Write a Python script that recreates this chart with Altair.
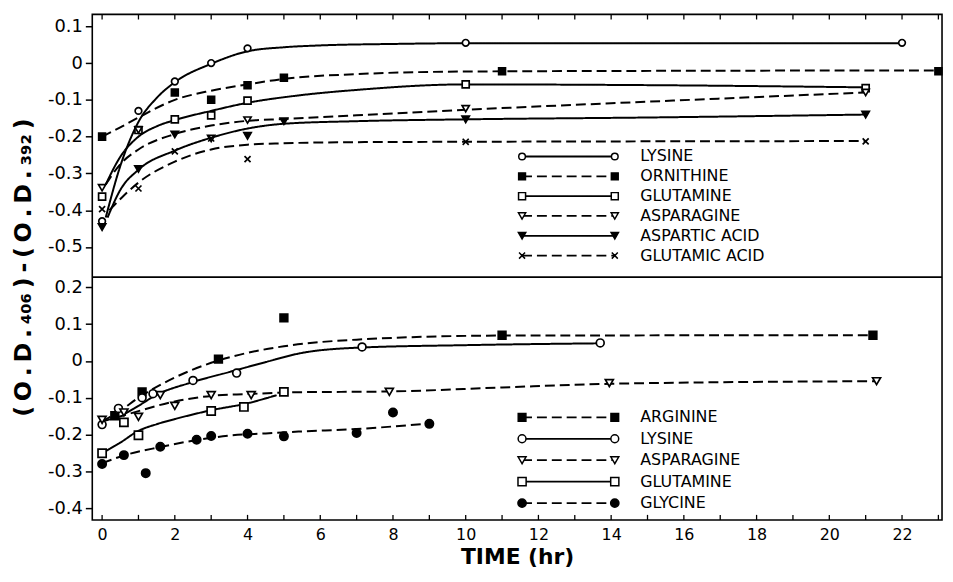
import altair as alt
import pandas as pd

# ------------------------------------------------------------------ data
TOP_NAMES = ["LYSINE", "ORNITHINE", "GLUTAMINE", "ASPARAGINE", "ASPARTIC ACID", "GLUTAMIC ACID"]
BOTTOM_NAMES = ["ARGININE", "LYSINE", "ASPARAGINE", "GLUTAMINE", "GLYCINE"]

# measured points (time in hr, (O.D.406)-(O.D.392)) — upper panel
TOP_LYSINE_PTS = [(0, -0.43), (1, -0.13), (2, -0.05), (3, 0.0), (4, 0.04), (10, 0.055), (22, 0.055)]
TOP_ORNITHINE_PTS = [(0, -0.20), (2, -0.08), (3, -0.10), (4, -0.06), (5, -0.04), (11, -0.022), (23, -0.022)]
TOP_GLUTAMINE_PTS = [(0, -0.363), (1, -0.182), (2, -0.153), (3, -0.142), (4, -0.102), (10, -0.058), (21, -0.068)]
TOP_ASPARAGINE_PTS = [(0, -0.339), (1, -0.182), (3, -0.205), (4, -0.155), (10, -0.124), (21, -0.08)]
TOP_ASPARTIC_PTS = [(0, -0.446), (1, -0.288), (2, -0.194), (4, -0.198), (5, -0.158), (10, -0.153), (21, -0.14)]
TOP_GLUTAMIC_PTS = [(0, -0.397), (1, -0.341), (2, -0.24), (3, -0.205), (4, -0.261), (10, -0.214), (21, -0.213)]

# drawn curves — upper panel
TOP_LYSINE_CURVE = [(0.1, -0.42), (0.5, -0.28), (1, -0.16), (1.5, -0.095), (2, -0.052), (3, -0.002),
                    (4, 0.032), (5, 0.043), (6, 0.048), (8, 0.052), (10, 0.054), (22, 0.054)]
TOP_ORNITHINE_CURVE = [(0, -0.2), (0.5, -0.175), (1, -0.148), (2, -0.1), (3, -0.075), (4, -0.058),
                       (5, -0.043), (7, -0.03), (10, -0.023), (16, -0.021), (23, -0.02)]
TOP_GLUTAMINE_CURVE = [(0.1, -0.33), (0.5, -0.255), (1, -0.2), (1.5, -0.172), (2, -0.155), (3, -0.13),
                       (4, -0.108), (5.4, -0.088), (7, -0.073), (10, -0.058), (15, -0.06), (21, -0.066)]
TOP_ASPARAGINE_CURVE = [(0.1, -0.33), (0.5, -0.275), (1, -0.235), (2, -0.193), (3, -0.17), (4, -0.157),
                        (5, -0.152), (7, -0.142), (10, -0.127), (15, -0.105), (21, -0.08)]
TOP_ASPARTIC_CURVE = [(0.15, -0.42), (0.5, -0.345), (1, -0.29), (2, -0.238), (3, -0.203), (4, -0.178),
                      (5, -0.165), (7, -0.158), (10, -0.153), (15, -0.148), (21, -0.14)]
TOP_GLUTAMIC_CURVE = [(0.2, -0.40), (0.6, -0.36), (1, -0.325), (2, -0.268), (3, -0.235), (4, -0.222),
                      (5, -0.218), (7, -0.215), (10, -0.214), (21, -0.212)]

# measured points — lower panel
BOT_ARGININE_PTS = [(0.35, -0.149), (1.1, -0.084), (3.2, 0.005), (5, 0.117), (11, 0.07), (21.2, 0.07)]
BOT_LYSINE_PTS = [(0, -0.173), (0.45, -0.129), (1.1, -0.1), (1.4, -0.089), (2.5, -0.053), (3.7, -0.033),
                  (7.15, 0.038), (13.7, 0.049)]
BOT_ASPARAGINE_PTS = [(0, -0.16), (0.6, -0.14), (1.0, -0.152), (1.6, -0.093), (2.0, -0.122), (3.0, -0.093),
                      (4.1, -0.093), (7.9, -0.084), (13.95, -0.06), (21.3, -0.055)]
BOT_GLUTAMINE_PTS = [(0, -0.251), (0.6, -0.167), (1.0, -0.202), (3.0, -0.136), (3.9, -0.125), (5.0, -0.084)]
BOT_GLYCINE_PTS = [(0, -0.28), (0.6, -0.256), (1.2, -0.305), (1.6, -0.233), (2.6, -0.214), (3.0, -0.204),
                   (4.0, -0.198), (5.0, -0.205), (7.0, -0.196), (8.0, -0.14), (9.0, -0.171)]

# drawn curves — lower panel
BOT_ARGININE_CURVE = [(0, -0.165), (0.5, -0.135), (1, -0.1), (2, -0.045), (3, -0.005), (4, 0.022),
                      (5, 0.04), (7, 0.058), (11, 0.069), (21.2, 0.07)]
BOT_LYSINE_CURVE = [(0.6, -0.145), (1, -0.122), (1.5, -0.092), (2.4, -0.06), (3.5, -0.03), (4.5, -0.003),
                    (5.4, 0.02), (7, 0.036), (10, 0.043), (13.7, 0.048)]
BOT_ASPARAGINE_CURVE = [(0, -0.165), (0.7, -0.145), (2, -0.11), (3, -0.095), (4, -0.09), (5.4, -0.085),
                        (7.9, -0.083), (11, -0.072), (14, -0.062), (21.3, -0.055)]
BOT_GLUTAMINE_CURVE = [(0.1, -0.245), (0.5, -0.222), (1, -0.19), (1.5, -0.172), (2, -0.158), (3, -0.134),
                       (4, -0.115), (4.8, -0.093)]
BOT_GLYCINE_CURVE = [(0, -0.278), (0.6, -0.257), (1.6, -0.234), (2.6, -0.215), (3.5, -0.203), (4.5, -0.197),
                     (5.4, -0.192), (7, -0.185), (9, -0.17)]

X_TICK_LABELS = [0, 2, 4, 6, 8, 10, 12, 14, 16, 18, 20, 22]
X_MINOR_TICKS = list(range(0, 24))
TOP_Y_TICKS = [0.1, 0.0, -0.1, -0.2, -0.3, -0.4, -0.5]
BOT_Y_TICKS = [0.2, 0.1, 0.0, -0.1, -0.2, -0.3, -0.4]

Y_TITLE = "\u2009".join(["(", "O", ".", "D", ".", "₄₀₆", ")", "-", "(", "O", ".", "D", ".", "₃₉₂", ")"])
X_TITLE = "TIME (hr)"

# ------------------------------------------------------------------ layout / style constants
OFFSET = 0.81          # lower panel is drawn shifted down by this many units
YMAX, YMIN = 0.1325, -1.2425
DIVIDER = -0.582
XMIN, XMAX = -0.27, 23.1
TOTAL_W, TOTAL_H = 945, 562
FONT = "DejaVu Sans"
TICK_LEN = 0.014

DASHED = [10, 5]
SOLID = [1, 0]
X_PATH = "M-0.8,-0.8L0.8,0.8M-0.8,0.8L0.8,-0.8"

series = [
    # key, panel, label, points, curve, shape, fill, size, dash
    ("T_LYS", "T", "LYSINE", TOP_LYSINE_PTS, TOP_LYSINE_CURVE, "circle", "white", 45, SOLID),
    ("T_ORN", "T", "ORNITHINE", TOP_ORNITHINE_PTS, TOP_ORNITHINE_CURVE, "square", "black", 70, DASHED),
    ("T_GLN", "T", "GLUTAMINE", TOP_GLUTAMINE_PTS, TOP_GLUTAMINE_CURVE, "square", "white", 65, SOLID),
    ("T_ASN", "T", "ASPARAGINE", TOP_ASPARAGINE_PTS, TOP_ASPARAGINE_CURVE, "triangle-down", "white", 55, DASHED),
    ("T_ASP", "T", "ASPARTIC ACID", TOP_ASPARTIC_PTS, TOP_ASPARTIC_CURVE, "triangle-down", "black", 60, SOLID),
    ("T_GLU", "T", "GLUTAMIC ACID", TOP_GLUTAMIC_PTS, TOP_GLUTAMIC_CURVE, X_PATH, "transparent", 90, DASHED),
    ("B_ARG", "B", "ARGININE", BOT_ARGININE_PTS, BOT_ARGININE_CURVE, "square", "black", 70, DASHED),
    ("B_LYS", "B", "LYSINE", BOT_LYSINE_PTS, BOT_LYSINE_CURVE, "circle", "white", 45, SOLID),
    ("B_ASN", "B", "ASPARAGINE", BOT_ASPARAGINE_PTS, BOT_ASPARAGINE_CURVE, "triangle-down", "white", 55, DASHED),
    ("B_GLN", "B", "GLUTAMINE", BOT_GLUTAMINE_PTS, BOT_GLUTAMINE_CURVE, "square", "white", 65, SOLID),
    ("B_GLY", "B", "GLYCINE", BOT_GLYCINE_PTS, BOT_GLYCINE_CURVE, "circle", "black", 70, DASHED),
]

KEYS = [s[0] for s in series]
SHAPES = [s[5] for s in series]
FILLS = [s[6] for s in series]
SIZES = [s[7] for s in series]
DASHES = [s[8] for s in series]

pts_rows, curve_rows = [], []
for key, panel, label, pts, curve, *_ in series:
    for t, v in pts:
        pts_rows.append({"key": key, "panel": panel, "t": t, "v": v})
    for t, v in curve:
        curve_rows.append({"key": key, "panel": panel, "t": t, "v": v})
pts_df = pd.DataFrame(pts_rows)
curve_df = pd.DataFrame(curve_rows)

# legend table built from the name lists
LEG_X1, LEG_X2, LEG_TX = 11.55, 14.1, 14.8
LEG_T_Y0, LEG_T_STEP = -0.254, 0.0539
LEG_B_Y0, LEG_B_STEP = -0.1533, 0.0583
leg_rows = []
for key, panel, label, *_ in series:
    names = TOP_NAMES if panel == "T" else BOTTOM_NAMES
    i = names.index(label)
    y = (LEG_T_Y0 - i * LEG_T_STEP) if panel == "T" else (LEG_B_Y0 - i * LEG_B_STEP)
    leg_rows.append({"key": key, "panel": panel, "label": label, "v": y,
                     "x1": LEG_X1, "x2": LEG_X2, "tx": LEG_TX})
leg_df = pd.DataFrame(leg_rows)
leg_pts_df = pd.concat([leg_df.assign(t=leg_df["x1"]), leg_df.assign(t=leg_df["x2"])], ignore_index=True)

SHIFT = f"datum.panel == 'B' ? datum.v - {OFFSET} : datum.v"

y_values = TOP_Y_TICKS + [round(v - OFFSET, 4) for v in BOT_Y_TICKS]
label_expr = (f"(datum.value > {DIVIDER} ? round(datum.value*10)/10 : "
              f"round((datum.value + {OFFSET})*10)/10) + ''")

x_scale = alt.Scale(domain=[XMIN, XMAX], nice=False, zero=False)
y_scale = alt.Scale(domain=[YMIN, YMAX], nice=False, zero=False)

x_axis = alt.Axis(values=X_TICK_LABELS, tickCount=len(X_TICK_LABELS) + 2, ticks=False, domain=False,
                  grid=False, labelFontSize=16, labelPadding=7, labelFont=FONT, labelColor="black",
                  labelOverlap=False, labelFlush=False, title=X_TITLE, titleFont=FONT, titleFontSize=22,
                  titleFontWeight="bold", titlePadding=4, titleColor="black")
y_axis = alt.Axis(values=y_values, tickCount=len(y_values) + 2, labelExpr=label_expr, tickSize=7,
                  tickWidth=1.5, tickColor="black", domain=False, grid=False, labelFontSize=18,
                  labelFont=FONT, labelColor="black", labelPadding=3, labelOverlap=False,
                  labelFlush=False, labelBound=False, title=Y_TITLE, titleFont=FONT, titleFontSize=24,
                  titleFontWeight="bold", titlePadding=12, titleColor="black")


def X(field):
    return alt.X(field, type="quantitative", scale=x_scale, axis=x_axis)


def Y(field):
    return alt.Y(field, type="quantitative", scale=y_scale, axis=y_axis)


shape_enc = alt.Shape("key:N", scale=alt.Scale(domain=KEYS, range=SHAPES), legend=None)
fill_enc = alt.Fill("key:N", scale=alt.Scale(domain=KEYS, range=FILLS), legend=None)
size_enc = alt.Size("key:O", scale=alt.Scale(domain=KEYS, range=SIZES), legend=None)
dash_enc = alt.StrokeDash("key:N", scale=alt.Scale(domain=KEYS, range=DASHES), legend=None)

curves = alt.Chart(curve_df).transform_calculate(yp=SHIFT).mark_line(
    interpolate="monotone", color="black", strokeWidth=2
).encode(x=X("t"), y=Y("yp"), detail="key:N", strokeDash=dash_enc)

points = alt.Chart(pts_df).transform_calculate(yp=SHIFT).mark_point(
    filled=False, stroke="black", strokeWidth=1.7, opacity=1
).encode(x=X("t"), y=Y("yp"), shape=shape_enc, fill=fill_enc, size=size_enc)

leg_lines = alt.Chart(leg_df).transform_calculate(yp=SHIFT).mark_rule(
    color="black", strokeWidth=1.8
).encode(x=X("x1"), x2="x2:Q", y=Y("yp"), strokeDash=dash_enc)

leg_points = alt.Chart(leg_pts_df).transform_calculate(yp=SHIFT).mark_point(
    filled=False, stroke="black", strokeWidth=1.5, opacity=1
).encode(x=X("t"), y=Y("yp"), shape=shape_enc, fill=fill_enc, size=size_enc)

leg_text = alt.Chart(leg_df).transform_calculate(yp=SHIFT).mark_text(
    align="left", baseline="middle", font=FONT, fontSize=16, color="black"
).encode(x=X("tx"), y=Y("yp"), text="label:N")

divider = alt.Chart(pd.DataFrame({"y": [DIVIDER]})).mark_rule(
    color="black", strokeWidth=1.6
).encode(y=Y("y"))

ticks_df = pd.DataFrame({"h": X_MINOR_TICKS})
bottom_ticks = alt.Chart(ticks_df).mark_rule(color="black", strokeWidth=1.3).encode(
    x=X("h"), y=alt.datum(YMIN), y2=alt.datum(YMIN + TICK_LEN))
top_ticks = alt.Chart(ticks_df).mark_rule(color="black", strokeWidth=1.3).encode(
    x=X("h"), y=alt.datum(YMAX), y2=alt.datum(YMAX - TICK_LEN))

chart = alt.layer(
    divider, bottom_ticks, top_ticks, curves, points, leg_lines, leg_points, leg_text
).properties(
    width=TOTAL_W, height=TOTAL_H,
    autosize=alt.AutoSizeParams(type="fit", contains="padding"),
    padding={"left": 3, "top": 3, "right": 0, "bottom": 0}, background="white"
).configure_view(
    stroke="black", strokeWidth=1.6
)

chart.save("out.html", embed_options={"renderer": "svg", "actions": False})
